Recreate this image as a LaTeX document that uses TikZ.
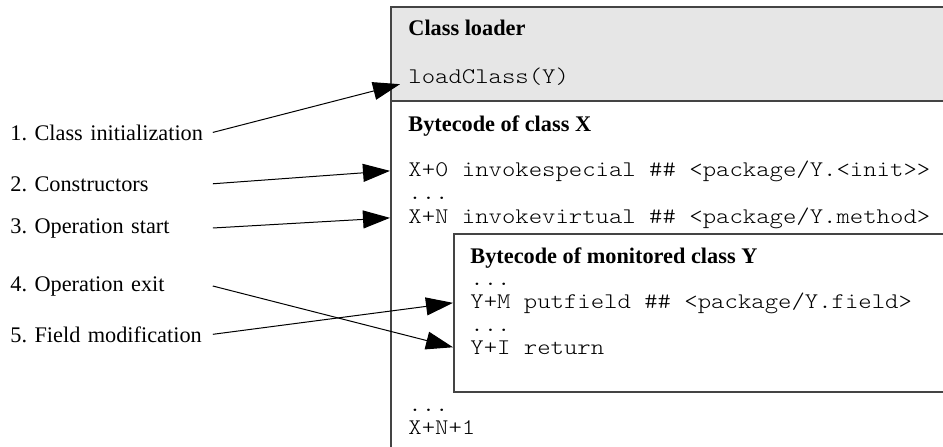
\documentclass[tikz,border=0pt]{standalone}
\usepackage{fontspec}
\setmainfont{Liberation Serif}
\setmonofont[FakeStretch=1.143]{lmmonolt10-regular.otf}
\frenchspacing
\usepackage{tikz}
\usetikzlibrary{positioning}
\usetikzlibrary{arrows.meta}
\definecolor{loadergray}{HTML}{E6E6E6}
\definecolor{framegray}{HTML}{444444}
\tikzset{bigtip/.tip={Triangle[length=13.5pt,width=9pt]}}

\begin{document}
\begin{tikzpicture}[x=0.5pt, y=-0.5pt,
        every node/.style={inner sep=0pt, anchor=base west, font=\fontsize{11.15}{13}\selectfont},
        phase/.style={text width=101pt, align=left},
        heading/.style={font=\fontsize{11.15}{13}\selectfont\bfseries},
        code/.style={inner xsep=8.5pt, font=\fontsize{11.15}{13}\selectfont\ttfamily},
        frame/.style={draw=framegray, line width=0.6pt},
        hook/.style={-bigtip, line width=0.5pt}]
    \useasboundingbox (0,0) rectangle (943,446);
    \clip (0,0) rectangle (943,446);

    % boxes, all open to the right
    \draw[frame, fill=loadergray] (391,7) rectangle (960,101);
    \draw[frame] (391,101) rectangle (960,460);
    \draw[frame, fill=white] (454,234) rectangle (960,392);

    % class loader
    \node[heading] (cl) at (408,35)  {Class loader};
    \node[code]    (ld) at (391,83)  {loadClass(Y)};

    % class X
    \node[heading] (bx)  at (408,131) {Bytecode of class X};
    \node[code]    (x0)  at (391,176) {X+0 invokespecial \#\# <package/Y.<init>>};
    \node[code]    (xd)  at (391,199) {...};
    \node[code]    (xn)  at (391,223) {X+N invokevirtual \#\# <package/Y.method>};
    \node[code]    (xd2) at (391,411) {...};
    \node[code]    (xe)  at (391,434) {X+N+1};

    % monitored class Y
    \node[heading] (by)  at (470,263) {Bytecode of monitored class Y};
    \node[code]    (yd1) at (453,285) {...};
    \node[code]    (ym)  at (453,308) {Y+M putfield \#\# <package/Y.field>};
    \node[code]    (yd2) at (453,331) {...};
    \node[code]    (yi)  at (453,354) {Y+I return};

    % instrumentation points
    \node[phase] (p1) at (10,140) {1. Class initialization};
    \node[phase] (p2) at (10,191) {2. Constructors};
    \node[phase] (p3) at (10,233) {3. Operation start};
    \node[phase] (p4) at (10,291) {4. Operation exit};
    \node[phase] (p5) at (10,342) {5. Field modification};

    \draw[hook] (p1.east) -- ([xshift=4.5pt,yshift=-4pt]ld.west);
    \draw[hook] (p2.east) -- ([xshift=-0.5pt]x0.west);
    \draw[hook] (p3.east) -- ([xshift=-0.5pt]xn.west);
    \draw[hook] (p4.east) -- (yi.west);
    \draw[hook] (p5.east) -- (ym.west);
\end{tikzpicture}
\end{document}
